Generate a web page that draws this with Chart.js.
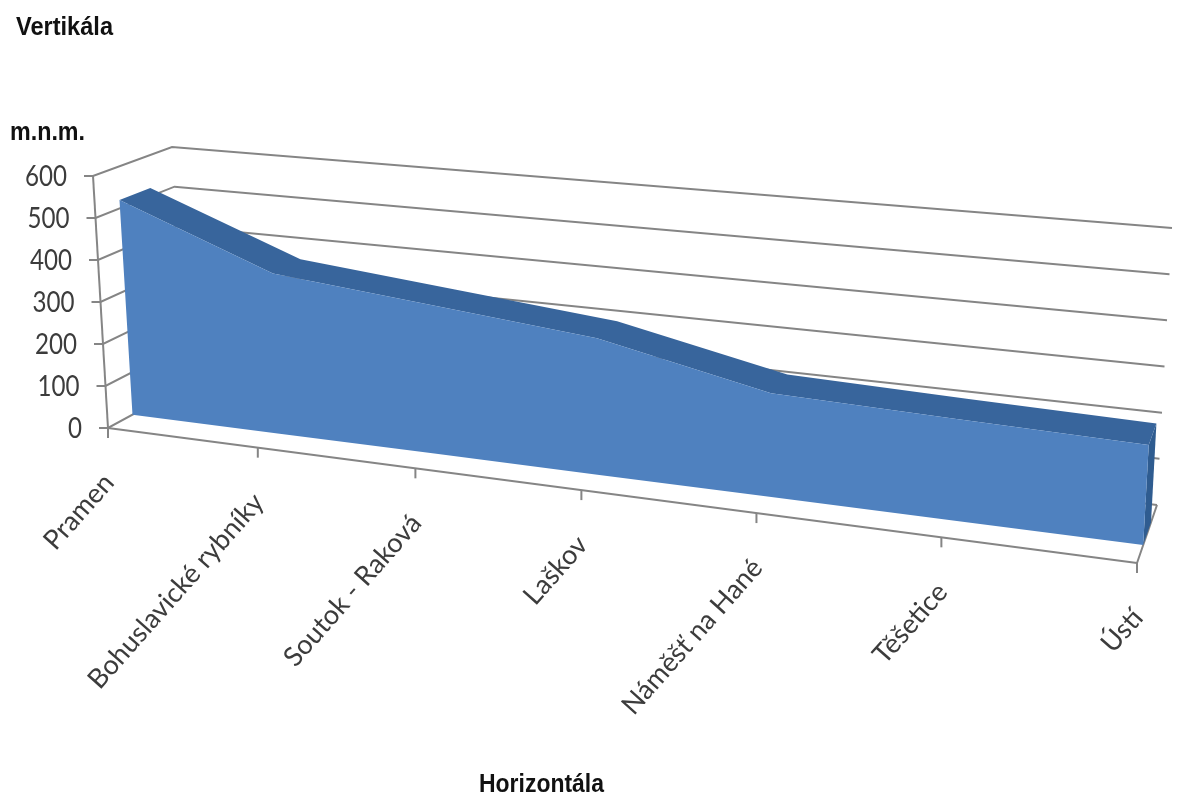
<!DOCTYPE html>
<html>
<head>
<meta charset="utf-8">
<title>Vertikála</title>
<style>
html, body { margin: 0; padding: 0; background: #fff; }
canvas { display: block; }
</style>
<script src="https://cdn.jsdelivr.net/npm/chart.js@4/dist/chart.umd.js"></script>
</head>
<body>
<canvas id="myChart" width="1181" height="799"></canvas>
<script>
const categories = ['Pramen', 'Bohuslavické rybníky', 'Soutok - Raková', 'Laškov', 'Náměšť na Hané', 'Těšetice', 'Ústí'];
const elevations = [520, 380, 345, 310, 230, 220, 212];
const yTicks = [0, 100, 200, 300, 400, 500, 600];

const yMax = 600;
const axisColor = '#858585';
const textColor = '#3c3c3c';

// corners of the 3D box: front plane and back wall, bottom/top, left/right
const box = {
	front: { l0: [108, 428], lTop: [93, 176], r0: [1137, 563], rTop: [1153, 277] },
	back: { l0: [187, 385], lTop: [172, 147], r0: [1157, 505], rTop: [1172, 228] }
};
const perspective = 0.148;    // the right side is nearer, so categories spread out
const faceDepth = 0.31;       // area front face inside the box
const bandDepth = 0.70;       // area back edge inside the box

function lerp(a, b, k) {
	return a + (b - a) * k;
}

// u, v, w in 0..1 -> pixel
function project(u, v, w) {
	const t = u * (1 - perspective) / (1 - perspective * u);
	const out = [];
	for (let i = 0; i < 2; i++) {
		const fl = lerp(box.front.l0[i], box.front.lTop[i], v);
		const fr = lerp(box.front.r0[i], box.front.rTop[i], v);
		const bl = lerp(box.back.l0[i], box.back.lTop[i], v);
		const br = lerp(box.back.r0[i], box.back.rTop[i], v);
		out.push(lerp(lerp(fl, fr, t), lerp(bl, br, t), w));
	}
	return { x: out[0], y: out[1] };
}

function toUnit(chart, xVal, yVal) {
	const { x, y } = chart.scales;
	return {
		u: (x.getPixelForValue(xVal) - x.left) / x.width,
		v: (y.bottom - y.getPixelForValue(yVal)) / y.height
	};
}

// closed outlines for the three visible sides of the area
const last = categories.length - 1;
const frontTop = elevations.map((v, i) => ({ x: i, y: v, w: faceDepth }));
const frontBottom = elevations.map((v, i) => ({ x: i, y: 0, w: faceDepth })).reverse();
const backTop = elevations.map((v, i) => ({ x: i, y: v, w: bandDepth })).reverse();

const faceData = [...frontTop, ...frontBottom];
const bandData = [...elevations.map((v, i) => ({ x: i, y: v, w: faceDepth })), ...backTop];
const sideData = [
	{ x: last, y: elevations[last], w: faceDepth },
	{ x: last, y: elevations[last], w: bandDepth },
	{ x: last, y: 0, w: bandDepth },
	{ x: last, y: 0, w: faceDepth }
];

function line(ctx, a, b) {
	ctx.beginPath();
	ctx.moveTo(a.x, a.y);
	ctx.lineTo(b.x, b.y);
	ctx.stroke();
}

const projectPlugin = {
	id: 'project3d',
	// move the points the library computed onto the 3D box
	afterDatasetsUpdate(chart) {
		chart.data.datasets.forEach((ds, n) => {
			chart.getDatasetMeta(n).data.forEach((pt, i) => {
				const d = ds.data[i];
				const { u, v } = toUnit(chart, d.x, d.y);
				const p = project(u, v, d.w);
				pt.x = p.x;
				pt.y = p.y;
			});
		});
	},
	beforeDatasetsDraw(chart) {
		const ctx = chart.ctx;
		ctx.save();
		ctx.strokeStyle = axisColor;
		ctx.lineWidth = 2;

		// gridlines: left wall then back wall
		yTicks.forEach(tick => {
			const { v } = toUnit(chart, 0, tick);
			const a = project(0, v, 0);
			const b = project(0, v, 1);
			const c = project(1, v, 1);
			ctx.beginPath();
			ctx.moveTo(a.x - 9, a.y);
			ctx.lineTo(a.x, a.y);
			ctx.lineTo(b.x, b.y);
			ctx.lineTo(c.x, c.y);
			ctx.stroke();
		});

		// axes
		line(ctx, project(0, 0, 0), project(0, 1, 0));
		line(ctx, project(0, 0, 0), project(1, 0, 0));
		line(ctx, project(1, 0, 0), project(1, 0, 1));
		categories.forEach((c, i) => {
			const { u } = toUnit(chart, i, 0);
			const p = project(u, 0, 0);
			line(ctx, p, { x: p.x, y: p.y + 10 });
		});

		// y tick labels, squeezed a little because Lato is wider than the face used here
		ctx.fillStyle = textColor;
		ctx.font = '28px Lato';
		ctx.textAlign = 'right';
		ctx.textBaseline = 'middle';
		yTicks.forEach(tick => {
			const { v } = toUnit(chart, 0, tick);
			const a = project(0, v, 0);
			const s = String(tick);
			ctx.fillText(s, a.x - 26, a.y + 1, s.length * 14);
		});

		// category labels
		ctx.font = '27px Lato';
		categories.forEach((c, i) => {
			const { u } = toUnit(chart, i, 0);
			const p = project(u, 0, 0);
			ctx.save();
			ctx.translate(p.x + 1, p.y + 50);
			ctx.rotate(-48.5 * Math.PI / 180);
			ctx.fillText(c, 0, 0);
			ctx.restore();
		});

		// titles
		ctx.fillStyle = '#111';
		ctx.textAlign = 'left';
		ctx.textBaseline = 'alphabetic';
		ctx.font = 'bold 26px "Liberation Sans"';
		ctx.fillText('Vertikála', 16, 35, 97);
		ctx.fillText('Horizontála', 479, 792, 125);
		ctx.fillText('m.n.m.', 10, 140, 75);
		ctx.restore();
	}
};

const commonDs = { borderWidth: 0, pointRadius: 0, fill: 'shape', tension: 0, clip: false };

const ygChart = new Chart(document.querySelector('#myChart'), {
	type: 'line',
	data: {
		datasets: [
			{ ...commonDs, label: 'čelo', data: faceData, backgroundColor: '#4f81bf' },
			{ ...commonDs, label: 'horní hrana', data: bandData, backgroundColor: '#38659c' },
			{ ...commonDs, label: 'bok', data: sideData, backgroundColor: '#2f5c90' }
		]
	},
	options: {
		responsive: false,
		animation: false,
		events: [],
		layout: { padding: 0 },
		plugins: { legend: { display: false }, tooltip: { enabled: false } },
		scales: {
			x: { type: 'linear', min: 0, max: last, display: false },
			y: { min: 0, max: yMax, display: false }
		}
	},
	plugins: [projectPlugin]
});
</script>
</body>
</html>
